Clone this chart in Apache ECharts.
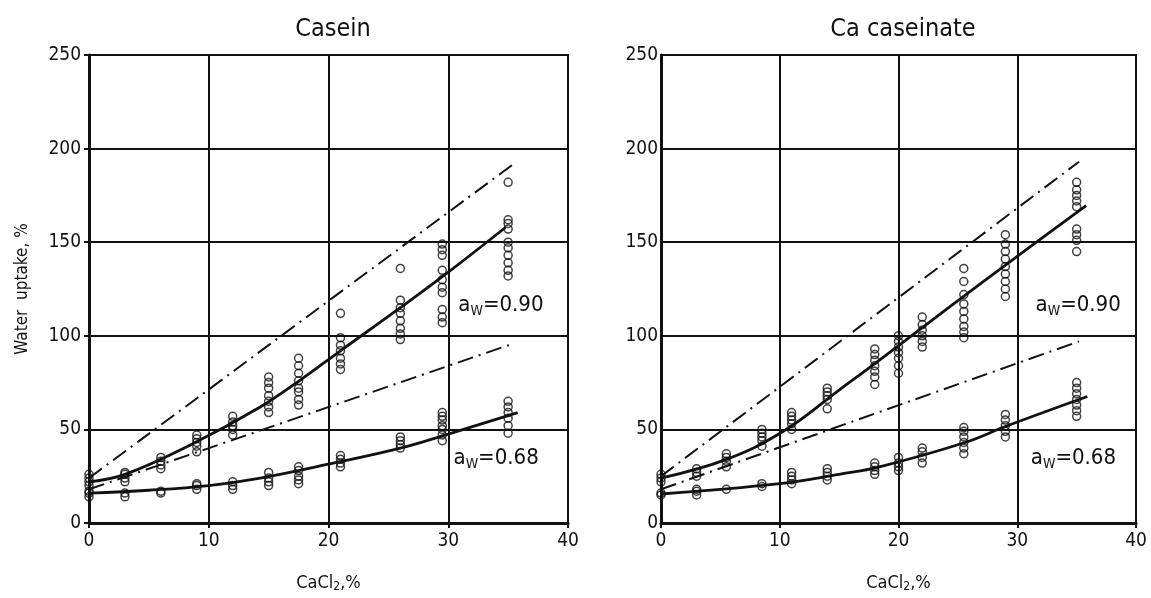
<!DOCTYPE html>
<html>
<head>
<meta charset="utf-8">
<script src="https://cdn.jsdelivr.net/npm/echarts@6/dist/echarts.min.js"></script>
<style>
  html, body { margin: 0; padding: 0; background: #fff; }
  #chart { width: 1151px; height: 598px; }
</style>
</head>
<body>
<div id="chart"></div>
<script>
// ---- data ----
const xTicks = [0, 10, 20, 30, 40];
const yTicks = [0, 50, 100, 150, 200, 250];

// Casein (left panel)
const caseinX = [0, 3, 6, 9, 12, 15, 17.5, 21, 26, 29.5, 35];
const caseinHigh = [
  [20, 22, 24, 26], [22, 24, 26, 27], [29, 31, 33, 35], [38, 41, 43, 45, 47],
  [47, 50, 52, 54, 57], [59, 62, 65, 68, 72, 75, 78], [63, 66, 70, 72, 76, 80, 84, 88],
  [82, 85, 88, 92, 95, 99, 112], [98, 101, 104, 108, 112, 115, 119, 136],
  [107, 110, 114, 123, 126, 130, 135, 143, 146, 149], [132, 135, 139, 143, 147, 150, 157, 160, 162, 182]
];
const caseinLow = [
  [14, 16, 17], [14, 16], [16, 17], [18, 20, 21], [18, 20, 22], [20, 22, 24, 27],
  [21, 23, 25, 28, 30], [30, 32, 34, 36], [40, 42, 44, 46], [44, 47, 50, 52, 55, 57, 59],
  [48, 52, 56, 59, 62, 65]
];
const caseinFitHighX = [0, 3, 8.7, 14.3, 17.7, 21, 26, 30, 34.8];
const caseinFitHighY = [22, 26, 42.5, 62, 76.6, 92, 115, 134, 158];
const caseinFitLowX = [0, 5, 10, 14.3, 20.4, 26, 30, 35.8];
const caseinFitLowY = [16, 17.5, 20, 24, 32, 40, 47.5, 59];
const caseinRefX = [0, 35.5];
const caseinRefHigh = [24, 192];
const caseinRefLow = [18, 96];

// Ca caseinate (right panel)
const caseinateX = [0, 3, 5.5, 8.5, 11, 14, 18, 20, 22, 25.5, 29, 35];
const caseinateHigh = [
  [22, 24, 26], [25, 27, 29], [30, 33, 35, 37], [41, 44, 46, 48, 50], [50, 53, 55, 57, 59],
  [61, 66, 68, 70, 72], [74, 78, 81, 84, 87, 90, 93], [80, 84, 88, 91, 94, 97, 100],
  [94, 97, 100, 103, 106, 110], [99, 102, 105, 109, 113, 117, 122, 129, 136],
  [121, 125, 129, 133, 137, 141, 145, 149, 154], [145, 151, 154, 157, 169, 172, 175, 178, 182]
];
const caseinateLow = [
  [15, 16], [15, 17, 18], [18], [19.5, 21], [21, 23, 25, 27], [23, 25, 27, 29],
  [26, 28, 30, 32], [28, 30, 32, 35], [32, 35, 38, 40], [37, 40, 43, 46, 49, 51],
  [46, 49, 52, 55, 58], [57, 60, 63, 66, 69, 72, 75]
];
const caseinateFitHighX = [0, 5.5, 10.3, 15, 18.4, 24, 29.6, 35.8];
const caseinateFitHighY = [24, 34, 49, 71, 87, 114, 140.6, 169.6];
const caseinateFitLowX = [0, 10, 15, 18.4, 25.6, 29.1, 35.9];
const caseinateFitLowY = [15.5, 21, 26, 30, 43, 51.8, 67.6];
const caseinateRefX = [0, 35.2];
const caseinateRefHigh = [25, 193];
const caseinateRefLow = [18, 97];

const titles = ['Casein', 'Ca caseinate'];

// ---- helpers ----
function columns(xs, groups) {
  return xs.flatMap((x, i) => groups[i].map(y => [x, y]));
}
function zip(xs, ys) {
  return xs.map((x, i) => [x, ys[i]]);
}

const FONT = "'DejaVu Sans Condensed', 'DejaVu Sans', sans-serif";
const INK = '#111';
const dashDot = [16, 6, 2, 6];

function scatter(idx, data) {
  return {
    type: 'scatter', xAxisIndex: idx, yAxisIndex: idx, data: data,
    symbol: 'circle', symbolSize: 8, z: 4,
    itemStyle: { color: 'rgba(255,255,255,0)', borderColor: INK, borderWidth: 1.5 }
  };
}
function fit(idx, data) {
  return {
    type: 'line', xAxisIndex: idx, yAxisIndex: idx, data: data, smooth: 0.4,
    showSymbol: false, z: 5, lineStyle: { color: INK, width: 2.8 }
  };
}
function ref(idx, data) {
  return {
    type: 'line', xAxisIndex: idx, yAxisIndex: idx, data: data,
    showSymbol: false, z: 3, lineStyle: { color: INK, width: 2, type: dashDot }
  };
}
function awLabel(idx, pos, text) {
  return {
    type: 'scatter', xAxisIndex: idx, yAxisIndex: idx, data: [pos],
    symbolSize: 1, itemStyle: { color: 'rgba(0,0,0,0)', opacity: 1 }, silent: true, z: 6,
    label: {
      show: true, position: 'right', distance: 0, color: INK, opacity: 1,
      formatter: '{a|a}{w|W}{a|=' + text + '}',
      rich: {
        a: { fontFamily: FONT, fontSize: 22, color: INK },
        w: { fontFamily: FONT, fontSize: 14, color: INK, padding: [12, 0, 0, 0] }
      }
    },
    emphasis: { disabled: true }
  };
}

const grids = [
  { left: 89, right: 583, top: 55, bottom: 71 },
  { left: 661, right: 15, top: 55, bottom: 71 }
];

const xAxes = grids.map((g, i) => ({
  type: 'value', gridIndex: i, min: xTicks[0], max: xTicks[xTicks.length - 1], interval: 10,
  name: 'CaCl{s|2},%', nameLocation: 'middle', nameGap: 50,
  nameTextStyle: {
    fontFamily: FONT, fontSize: 18, color: INK,
    rich: { s: { fontFamily: FONT, fontSize: 12, color: INK, padding: [8, 0, 0, 0] } }
  },
  axisLine: { lineStyle: { color: INK, width: 3 } },
  axisTick: { show: true, length: 5, lineStyle: { color: INK, width: 2 } },
  axisLabel: { fontFamily: FONT, fontSize: 19, color: INK, margin: 9 },
  splitLine: { show: true, lineStyle: { color: INK, width: 2 } }
}));

const yAxes = grids.map((g, i) => ({
  type: 'value', gridIndex: i, min: yTicks[0], max: yTicks[yTicks.length - 1], interval: 50,
  name: i === 0 ? 'Water  uptake, %' : '', nameLocation: 'middle', nameGap: 58,
  nameTextStyle: { fontFamily: FONT, fontSize: 17, color: INK },
  axisLine: { lineStyle: { color: INK, width: 3 } },
  axisTick: { show: i === 0, length: 5, lineStyle: { color: INK, width: 2 } },
  axisLabel: { fontFamily: FONT, fontSize: 19, color: INK, margin: i === 0 ? 8 : 3 },
  splitLine: { show: true, lineStyle: { color: INK, width: 2 } }
}));

const chart = echarts.init(document.getElementById('chart'), null, { renderer: 'canvas' });
chart.setOption({
  backgroundColor: '#fff',
  animation: false,
  title: [
    { text: titles[0], left: 328, top: 12, textAlign: 'center',
      textStyle: { fontFamily: FONT, fontSize: 25, fontWeight: 'normal', color: INK } },
    { text: titles[1], left: 898, top: 12, textAlign: 'center',
      textStyle: { fontFamily: FONT, fontSize: 25, fontWeight: 'normal', color: INK } }
  ],
  grid: grids.map(g => Object.assign({ show: true, borderColor: INK, borderWidth: 2, backgroundColor: 'transparent' }, g)),
  xAxis: xAxes,
  yAxis: yAxes,
  series: [
    ref(0, zip(caseinRefX, caseinRefHigh)),
    ref(0, zip(caseinRefX, caseinRefLow)),
    scatter(0, columns(caseinX, caseinHigh)),
    scatter(0, columns(caseinX, caseinLow)),
    fit(0, zip(caseinFitHighX, caseinFitHighY)),
    fit(0, zip(caseinFitLowX, caseinFitLowY)),
    awLabel(0, [30.8, 116.5], '0.90'),
    awLabel(0, [30.4, 34.4], '0.68'),

    ref(1, zip(caseinateRefX, caseinateRefHigh)),
    ref(1, zip(caseinateRefX, caseinateRefLow)),
    scatter(1, columns(caseinateX, caseinateHigh)),
    scatter(1, columns(caseinateX, caseinateLow)),
    fit(1, zip(caseinateFitHighX, caseinateFitHighY)),
    fit(1, zip(caseinateFitLowX, caseinateFitLowY)),
    awLabel(1, [31.5, 116.5], '0.90'),
    awLabel(1, [31.1, 34.4], '0.68')
  ]
});
</script>
</body>
</html>
